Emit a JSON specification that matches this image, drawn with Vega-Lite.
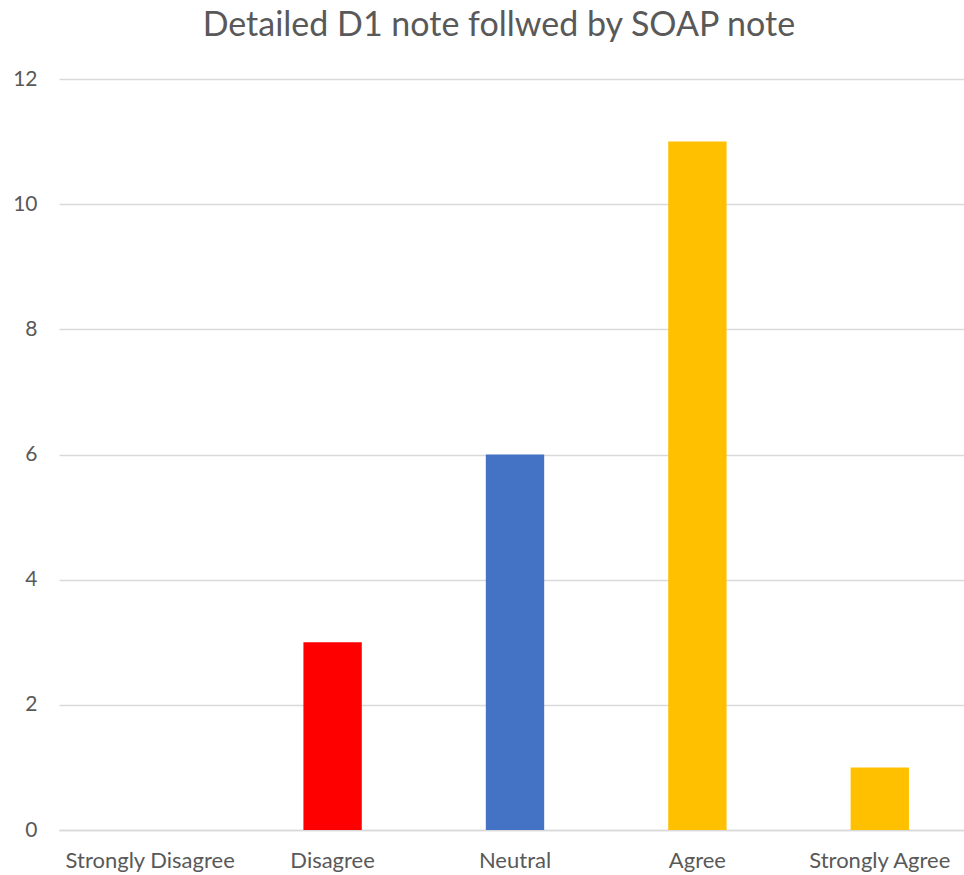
{
  "$schema": "https://vega.github.io/schema/vega-lite/v6.json",
  "autosize": "none",
  "width": 912,
  "height": 751,
  "padding": {"left": 59, "top": 79, "right": 0, "bottom": 45},
  "background": "white",
  "title": {
    "text": "Detailed D1 note follwed by SOAP note",
    "font": "Lato, sans-serif",
    "fontSize": 34,
    "fontWeight": "normal",
    "color": "#595959",
    "anchor": "start",
    "dx": 190,
    "offset": 25
  },
  "data": {
    "values": [
      {"response": "Strongly Disagree", "count": 0},
      {"response": "Disagree", "count": 3},
      {"response": "Neutral", "count": 6},
      {"response": "Agree", "count": 11},
      {"response": "Strongly Agree", "count": 1}
    ]
  },
  "mark": {"type": "bar"},
  "encoding": {
    "x": {
      "field": "response",
      "type": "nominal",
      "sort": null,
      "scale": {"paddingInner": 0.68, "paddingOuter": 0.34},
      "axis": {
        "title": null,
        "labelAngle": 0,
        "labelFont": "Lato, sans-serif",
        "labelFontSize": 22,
        "labelColor": "#595959",
        "labelPadding": 20,
        "ticks": false,
        "domainColor": "#D9D9D9",
        "domainWidth": 1.5,
        "grid": false
      }
    },
    "y": {
      "field": "count",
      "type": "quantitative",
      "scale": {"domain": [0, 12], "nice": false},
      "axis": {
        "title": null,
        "values": [0, 2, 4, 6, 8, 10, 12],
        "labelFont": "Lato, sans-serif",
        "labelFontSize": 21,
        "labelColor": "#595959",
        "labelPadding": 22,
        "ticks": false,
        "domain": false,
        "gridColor": "#D9D9D9",
        "gridWidth": 1.5
      }
    },
    "color": {
      "field": "response",
      "type": "nominal",
      "scale": {
        "domain": ["Strongly Disagree", "Disagree", "Neutral", "Agree", "Strongly Agree"],
        "range": ["#FFC000", "#FF0000", "#4472C4", "#FFC000", "#FFC000"]
      },
      "legend": null
    }
  },
  "config": {"view": {"stroke": null}}
}
